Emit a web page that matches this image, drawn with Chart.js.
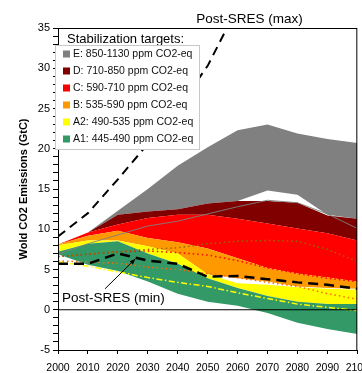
<!DOCTYPE html>
<html>
<head>
<meta charset="utf-8">
<script src="https://cdn.jsdelivr.net/npm/chart.js@4"></script>
<style>
  html, body { margin: 0; padding: 0; background: #fff; overflow: hidden; }
  #wrap { width: 377px; height: 373px; }
</style>
</head>
<body>
<div id="wrap"><canvas id="chart"></canvas></div>
<script>
/* ---------------- DATA ---------------- */
const years = [2000, 2010, 2020, 2030, 2040, 2050, 2060, 2070, 2080, 2090, 2100];

// stabilization target bands (GtC), upper / lower edges
const eUpper  = [8.1, 9.6, 12.3, 15.0, 17.9, 20.2, 22.3, 23.0, 21.9, 21.2, 20.7];
const eLower  = [8.1, 9.6, 11.8, 12.2, 12.5, 13.2, 13.5, 14.8, 14.3, 11.8, 11.3];
const dUpper  = [8.1, 9.6, 11.8, 12.2, 12.5, 13.2, 13.5, 13.5, 13.3, 11.7, 11.3];
const cUpper  = [8.1, 9.6, 10.6, 11.4, 11.8, 11.8, 11.3, 10.7, 10.1, 9.5, 8.6];
const bUpper  = [8.1, 9.2, 9.8, 8.9, 8.4, 7.6, 6.4, 5.2, 4.5, 4.0, 3.5];
const bLower  = [8.0, 8.6, 8.6, 7.9, 7.0, 4.4, 3.9, 3.5, 2.9, 2.7, 2.6];
const a2Upper = [8.0, 8.6, 8.6, 7.9, 7.0, 4.4, 3.3, 3.1, 2.8, 2.6, 2.5];
const a1Upper = [7.2, 8.2, 8.5, 7.0, 5.7, 3.9, 2.7, 1.7, 1.0, 0.7, 0.7];
const a1Lower = [6.9, 5.6, 4.8, 3.5, 2.0, 1.0, 0.5, -0.4, -1.6, -2.4, -3.0];

// single scenario lines
const sresMax   = [9.1, 12.0, 16.2, 20.6, 25.0, 30.3, 37.6];
const sresMin   = [5.7, 5.7, 7.0, 6.1, 5.7, 4.1, 4.2, 3.8, 3.4, 3.1, 2.6];
const greyLine  = [6.9, 8.2, 9.3, 10.4, 11.0, 11.9, 12.8, 13.6, 13.3, 11.9, 10.1];
const medDark   = [6.6, 6.9, 7.2, 7.5, 7.7, 8.2, 8.5, 8.6, 8.5, 7.5, 6.0];
const medRed    = [6.6, 6.9, 7.2, 7.3, 7.1, 6.8, 6.1, 5.2, 4.5, 3.9, 3.5];
const medOrange = [6.1, 5.9, 5.8, 5.3, 5.0, 4.5, 4.0, 3.4, 2.9, 2.0, 1.3];
const medYellow = [6.0, 5.4, 4.7, 4.0, 3.4, 2.9, 2.1, 1.4, 0.7, 0.3, -0.1];

const targetLabels = [
  "E: 850-1130 ppm CO2-eq",
  "D: 710-850 ppm CO2-eq",
  "C: 590-710 ppm CO2-eq",
  "B: 535-590 ppm CO2-eq",
  "A2: 490-535 ppm CO2-eq",
  "A1: 445-490 ppm CO2-eq"
];
const targetColors = ["#808080", "#800000", "#ff0000", "#ff9900", "#ffff00", "#339966"];

const FONT = 'Arial, "Liberation Sans", sans-serif';
Chart.defaults.font.family = FONT;
Chart.defaults.color = "#000";

const pts = arr => arr.map((v, i) => ({ x: years[i], y: v }));

function line(data, color, width, dash) {
  return { data: pts(data), borderColor: color, borderWidth: width, borderDash: dash || [], fill: false, pointRadius: 0 };
}

function band(upper, lower, color) {
  return [
    { data: pts(upper), borderWidth: 0, borderColor: "transparent", backgroundColor: color, fill: "+1", pointRadius: 0 },
    { data: pts(lower), borderWidth: 0, borderColor: "transparent", fill: false, pointRadius: 0 }
  ];
}

/* ---------------- DATASETS (first = on top) ---------------- */
const datasets = [
  { data: [{ x: 2000, y: 0 }, { x: 2100, y: 0 }], borderColor: "#000", borderWidth: 1, pointRadius: 0, fill: false },
  line(sresMin, "#000", 2.5, [10, 6]),
  line(sresMax, "#000", 2, [9, 6]),
  line(greyLine, "rgba(128,128,128,0.9)", 1),
  line(medDark, "#996600", 1.5, [1.5, 3]),
  line(medRed, "#ff0000", 1.5, [1.5, 3]),
  line(medOrange, "#ff6600", 1.5, [1.5, 3]),
  line(medYellow, "#ffff00", 1.5, [6, 2.5, 1.5, 2.5]),
  ...band(a1Upper, a1Lower, targetColors[5]),
  ...band(a2Upper, a1Upper, targetColors[4]),
  ...band(bUpper, bLower, targetColors[3]),
  ...band(cUpper, bUpper, targetColors[2]),
  ...band(dUpper, cUpper, targetColors[1]),
  ...band(eUpper, eLower, targetColors[0])
];

/* ---------------- FRAME, LEGEND, NOTES ---------------- */
const framePlugin = {
  id: "frame",
  afterDatasetsDraw(chart) {
    const { ctx, chartArea: a } = chart;
    ctx.save();
    ctx.strokeStyle = "#000";
    ctx.lineWidth = 1;
    ctx.strokeRect(a.left + 0.5, a.top + 0.5, a.right - a.left - 1, a.bottom - a.top);
    ctx.restore();
  }
};

const legendPlugin = {
  id: "targetsLegend",
  afterDraw(chart) {
    const { ctx, chartArea: a } = chart;
    const boxL = a.left - 3, boxT = a.top + 17, boxW = 144, boxH = 104;
    ctx.save();

    // title strip
    ctx.fillStyle = "#fff";
    ctx.fillRect(a.left + 1, a.top + 1, boxW - 3, boxT - a.top - 1);
    ctx.fillStyle = "#000";
    ctx.font = "13px " + FONT;
    ctx.textBaseline = "middle";
    ctx.fillText("Stabilization targets:", a.left + 9, a.top + 11);

    // box
    ctx.fillStyle = "#fff";
    ctx.fillRect(boxL, boxT, boxW, boxH);
    ctx.strokeStyle = "#c8c8c8";
    ctx.lineWidth = 1;
    ctx.strokeRect(boxL + 0.5, boxT + 0.5, boxW, boxH);

    ctx.font = "10.5px " + FONT;
    targetLabels.forEach((t, i) => {
      const cy = boxT + 9 + i * 17;
      ctx.fillStyle = targetColors[i];
      ctx.fillRect(boxL + 8, cy - 3.5, 7, 7);
      ctx.fillStyle = "#111";
      ctx.fillText(t, boxL + 18, cy + 0.5);
    });
    ctx.restore();
  }
};

const notesPlugin = {
  id: "notes",
  afterDraw(chart) {
    const { ctx, chartArea: a } = chart;
    const x = chart.scales.x, y = chart.scales.y;
    ctx.save();
    ctx.fillStyle = "#000";
    ctx.font = "13.5px " + FONT;
    ctx.textBaseline = "middle";

    ctx.textAlign = "center";
    ctx.fillText("Post-SRES (max)", x.getPixelForValue(2064), a.top - 9);

    ctx.textAlign = "left";
    ctx.fillText("Post-SRES (min)", x.getPixelForValue(2001.3), y.getPixelForValue(1.4));

    // arrow to the min pathway
    const x0 = x.getPixelForValue(2015.7), y0 = y.getPixelForValue(2.6);
    const x1 = x.getPixelForValue(2025.8), y1 = y.getPixelForValue(6.3);
    const ang = Math.atan2(y1 - y0, x1 - x0);
    ctx.strokeStyle = "#000";
    ctx.lineWidth = 1;
    ctx.beginPath();
    ctx.moveTo(x0, y0);
    ctx.lineTo(x1, y1);
    ctx.stroke();
    ctx.beginPath();
    ctx.moveTo(x1, y1);
    ctx.lineTo(x1 - 6 * Math.cos(ang - 0.4), y1 - 6 * Math.sin(ang - 0.4));
    ctx.lineTo(x1 - 6 * Math.cos(ang + 0.4), y1 - 6 * Math.sin(ang + 0.4));
    ctx.closePath();
    ctx.fill();
    ctx.restore();
  }
};

/* ---------------- CHART ---------------- */
new Chart(document.getElementById("chart"), {
  type: "line",
  data: { datasets },
  plugins: [framePlugin, legendPlugin, notesPlugin],
  options: {
    responsive: true,
    maintainAspectRatio: false,
    animation: false,
    layout: { padding: { top: 28, left: 0, right: 0, bottom: 0 } },
    plugins: {
      legend: { display: false },
      tooltip: { enabled: false },
      filler: { propagate: false }
    },
    scales: {
      x: {
        type: "linear",
        min: 2000,
        max: 2100,
        ticks: { stepSize: 10, padding: 8, font: { size: 10.5 }, callback: v => String(v) },
        grid: { drawOnChartArea: false, tickLength: 4, tickColor: "#000" },
        border: { display: false },
        afterFit: s => { s.height = 23; }
      },
      y: {
        min: -5,
        max: 35,
        ticks: {
          stepSize: 1,
          autoSkip: false,
          padding: 3,
          font: { size: 11 },
          callback: v => (v % 5 === 0 ? v : "")
        },
        grid: { drawOnChartArea: false, tickLength: 5, tickColor: "#000" },
        border: { display: false },
        title: {
          display: true,
          text: "Wold CO2 Emissions (GtC)",
          font: { size: 11, weight: "bold" },
          padding: { top: 17, bottom: 0 }
        },
        afterFit: s => { s.width = 58; }
      }
    }
  }
});
</script>
</body>
</html>
